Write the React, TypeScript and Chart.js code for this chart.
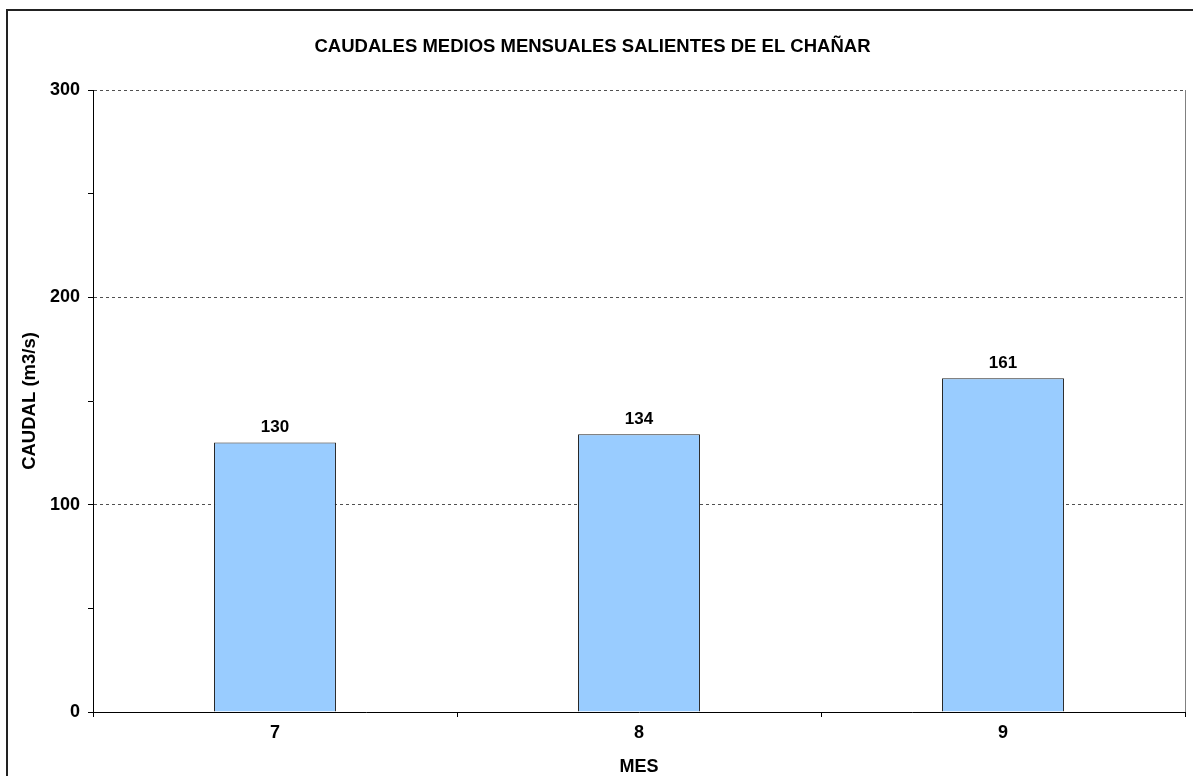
import React, { useEffect, useRef } from "react";
import { Chart, registerables } from "chart.js";

Chart.register(...registerables);

const chartTitle = "CAUDALES MEDIOS MENSUALES SALIENTES DE EL CHAÑAR";
const months = ["7", "8", "9"];
const caudales = [130, 134, 161];
const yTitle = "CAUDAL (m3/s)";
const xTitle = "MES";
const yMin = 0;
const yMax = 300;
const yStep = 50;
const yLabelStep = 100;

const FONT = "'Liberation Sans', Arial, Helvetica, sans-serif";

export default function App() {
  const ref = useRef<HTMLCanvasElement | null>(null);

  useEffect(() => {
    const canvas = ref.current;
    if (!canvas) return;

    const frame = {
      id: "frame",
      afterDraw(chart: any) {
        const { ctx, chartArea } = chart;
        ctx.save();
        ctx.strokeStyle = "#808080";
        ctx.lineWidth = 1;
        ctx.beginPath();
        ctx.moveTo(Math.round(chartArea.right) + 0.5, chartArea.top);
        ctx.lineTo(Math.round(chartArea.right) + 0.5, chartArea.bottom);
        ctx.stroke();
        ctx.strokeStyle = "#222";
        ctx.lineWidth = 2;
        ctx.beginPath();
        ctx.moveTo(7, chart.height + 5);
        ctx.lineTo(7, 10);
        ctx.lineTo(chart.width + 5, 10);
        ctx.stroke();
        ctx.restore();
      },
    };

    const valueLabels = {
      id: "valueLabels",
      afterDatasetsDraw(chart: any) {
        const { ctx } = chart;
        const meta = chart.getDatasetMeta(0);
        ctx.save();
        ctx.fillStyle = "#000";
        ctx.font = `bold 17px ${FONT}`;
        ctx.textAlign = "center";
        ctx.textBaseline = "alphabetic";
        meta.data.forEach((bar: any, i: number) => {
          ctx.fillText(String(caudales[i]), bar.x, bar.y - 10);
        });
        ctx.restore();
      },
    };

    const chart = new Chart(canvas, {
      type: "bar",
      data: {
        labels: months,
        datasets: [
          {
            data: caudales,
            backgroundColor: "#99CCFF",
            borderColor: "#222222",
            borderWidth: 1,
            categoryPercentage: 1,
            barPercentage: 0.335,
          },
        ],
      },
      options: {
        responsive: false,
        animation: false,
        devicePixelRatio: 1,
        layout: { padding: { left: 0, right: 8, top: 0, bottom: 0 } },
        plugins: {
          legend: { display: false },
          tooltip: { enabled: false },
          title: {
            display: true,
            text: chartTitle,
            color: "#000",
            font: { family: FONT, size: 18.5, weight: "bold", lineHeight: 1.2 },
            padding: { top: 36, bottom: 31.8 },
          },
        },
        scales: {
          x: {
            grid: {
              offset: true,
              drawOnChartArea: false,
              drawTicks: true,
              tickLength: 5,
              tickColor: "#000",
            },
            border: { display: true, color: "#000", width: 1 },
            ticks: {
              color: "#000",
              padding: 5,
              font: { family: FONT, size: 18, weight: "bold" },
            },
            title: {
              display: true,
              text: xTitle,
              color: "#000",
              font: { family: FONT, size: 18, weight: "bold", lineHeight: 1 },
              padding: { top: 0, bottom: 0 },
            },
            afterFit: (scale: any) => {
              scale.height = 64;
            },
          },
          y: {
            min: yMin,
            max: yMax,
            grid: {
              color: (ctx: any) => {
                const v = ctx.tick ? ctx.tick.value : -1;
                return v > 0 && v % yLabelStep === 0 ? "#505050" : "rgba(0,0,0,0)";
              },
              lineWidth: 1,
              drawTicks: true,
              tickLength: 5,
              tickColor: "#000",
              borderDash: [3, 3],
            } as any,
            border: { display: true, color: "#000", width: 1, dash: [3, 3] },
            ticks: {
              stepSize: yStep,
              color: "#000",
              padding: 8,
              font: { family: FONT, size: 18, weight: "bold" },
              callback: (v: any) => (Number(v) % yLabelStep === 0 ? String(v) : ""),
            },
            title: {
              display: true,
              text: yTitle,
              color: "#000",
              font: { family: FONT, size: 18.5, weight: "bold", lineHeight: 1.2 },
              padding: { top: 19, bottom: 0 },
            },
            afterFit: (scale: any) => {
              scale.width = 93;
            },
          },
        },
      },
      plugins: [frame, valueLabels],
    } as any);

    return () => chart.destroy();
  }, []);

  return (
    <div style={{ position: "absolute", left: 0, top: 0, width: 1193, height: 776, background: "#fff" }}>
      <canvas ref={ref} width={1193} height={776} style={{ display: "block", width: 1193, height: 776 }} />
    </div>
  );
}
